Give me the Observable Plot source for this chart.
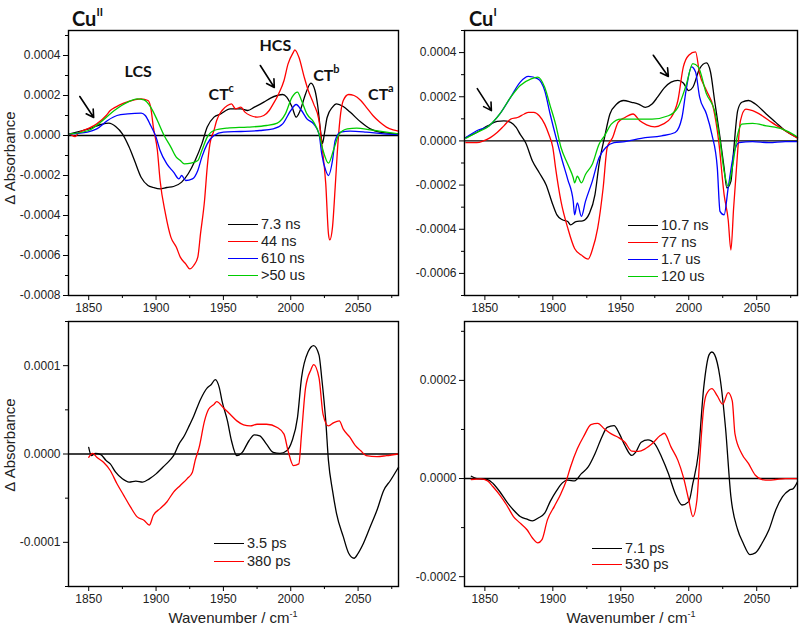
<!DOCTYPE html>
<html><head><meta charset="utf-8">
<script src="https://cdn.jsdelivr.net/npm/d3@7"></script>
<script src="https://cdn.jsdelivr.net/npm/@observablehq/plot@0.6"></script>
<style>
body{margin:0;background:#fff;}
#root{position:relative;width:800px;height:632px;font-family:"Liberation Sans",Arial,sans-serif;color:#222;overflow:hidden;}
.p{position:absolute;}
.t{position:absolute;white-space:nowrap;}
.title{font-family:Lato,"Open Sans",sans-serif;font-weight:bold;font-size:20px;line-height:20px;color:#111;}
.title sup{font-size:11px;position:relative;top:-2px;}
.ylab{font-size:15px;line-height:16px;width:200px;text-align:center;transform:rotate(-90deg);}
.xlab{font-size:15px;line-height:18px;width:220px;text-align:center;}
.xlab sup{font-size:9px;}
.leg{font-size:14.5px;line-height:16px;}
.leg span{display:inline-block;width:30px;height:0;border-top:1.6px solid;vertical-align:middle;margin-right:3px;position:relative;top:-1px;}
</style></head><body><div id="root"></div>
<script>
// ---------- shared axis values ----------
const xDomain = [1835, 2080];
const xMajor = [1850, 1900, 1950, 2000, 2050];
const xMinor = [1875, 1925, 1975, 2025, 2075];

// ---------- Cu(II), ns-us spectra, values x 1e-4 ----------
const cuII_7_3ns = [[1836,0.08],[1850,0.33],[1859,0.55],[1865,0.62],[1870,0.45],[1875,0.08],[1880,-0.58],[1884,-1.25],[1889,-2.1],[1894,-2.5],[1898,-2.6],[1903,-2.67],[1908,-2.6],[1913,-2.55],[1919,-2.33],[1924,-1.9],[1929,-1.25],[1934,-0.42],[1938,0.42],[1943,0.92],[1948,1.08],[1955,1.33],[1963,1.33],[1968,1.25],[1973,1.42],[1980,1.67],[1985,1.87],[1990,2.0],[1994,2.05],[1997,1.92],[2001,1.42],[2004,0.92],[2007,1.25],[2011,2.08],[2015,2.62],[2018,2.25],[2020,1.5],[2022,0.3],[2023.5,-0.4],[2025,0.1],[2027,0.9],[2031,1.42],[2034,1.58],[2039,1.45],[2044,1.17],[2052,0.67],[2059,0.33],[2066,0.17],[2080,0.08]];
const cuII_44ns = [[1836,0.08],[1840,-0.05],[1842,0.1],[1849,0.33],[1856,0.58],[1863,1.0],[1866,1.25],[1870,1.42],[1876,1.62],[1884,1.78],[1889,1.83],[1894,1.75],[1896,1.42],[1898,0.42],[1901,-0.75],[1903,-2.25],[1907,-3.92],[1911,-5.08],[1915,-5.58],[1918,-6.08],[1922,-6.42],[1925,-6.67],[1928,-6.5],[1931,-6.08],[1933,-4.92],[1936,-3.25],[1938,-1.58],[1940,-0.42],[1943,0.25],[1945,0.75],[1949,1.25],[1953,1.5],[1956,1.58],[1959,1.33],[1963,1.42],[1966,1.17],[1970,1.0],[1975,0.92],[1980,1.0],[1984,1.25],[1987,1.58],[1991,2.08],[1995,2.75],[1998,3.58],[2002,4.17],[2003,4.28],[2006,3.92],[2010,2.92],[2013,2.25],[2017,1.58],[2021,0.75],[2023,-0.42],[2026,-2.42],[2028,-4.92],[2029,-5.22],[2031,-4.58],[2033,-2.58],[2035,-0.42],[2037,1.08],[2039,1.75],[2043,2.05],[2047,2.0],[2052,1.75],[2056,1.42],[2061,1.0],[2066,0.67],[2071,0.42],[2076,0.28],[2080,0.22]];
const cuII_610ns = [[1836,0.08],[1849,0.17],[1856,0.33],[1864,0.75],[1871,1.0],[1879,1.08],[1889,1.12],[1892,1.0],[1896,0.5],[1900,-0.08],[1903,-0.75],[1908,-1.42],[1913,-1.83],[1917,-2.17],[1919,-2.0],[1922,-2.25],[1927,-2.17],[1931,-1.75],[1934,-1.08],[1938,-0.42],[1943,0.0],[1950,0.17],[1963,0.2],[1977,0.25],[1987,0.33],[1994,0.58],[2000,1.25],[2004,1.55],[2008,1.25],[2012,0.83],[2017,0.58],[2021,0.08],[2023,-0.92],[2026,-1.75],[2028,-2.0],[2031,-1.25],[2033,-0.25],[2037,0.17],[2044,0.22],[2056,0.17],[2069,0.08],[2080,0.05]];
const cuII_50us = [[1836,0.08],[1850,0.25],[1859,0.67],[1869,1.25],[1879,1.67],[1886,1.83],[1891,1.78],[1896,1.42],[1901,0.75],[1906,0.0],[1911,-0.58],[1915,-1.08],[1918,-1.25],[1921,-1.42],[1926,-1.38],[1931,-1.25],[1934,-0.75],[1938,-0.08],[1943,0.25],[1953,0.37],[1968,0.42],[1982,0.5],[1990,0.62],[1996,1.08],[2001,1.92],[2005,2.17],[2008,1.75],[2012,1.08],[2017,0.67],[2021,0.08],[2024,-0.75],[2028,-1.38],[2032,-0.67],[2036,0.08],[2042,0.33],[2049,0.37],[2059,0.28],[2071,0.17],[2080,0.08]];

// ---------- Cu(I), ns-us spectra, values x 1e-4 ----------
const cuI_10_7ns = [[1836,0.15],[1844,0.38],[1852,0.68],[1859,0.88],[1864,0.91],[1869,0.84],[1873,0.61],[1876,0.3],[1880,-0.08],[1885,-0.91],[1890,-1.44],[1895,-1.98],[1900,-2.89],[1903,-3.35],[1907,-3.57],[1911,-3.65],[1913,-3.8],[1917,-3.65],[1922,-3.62],[1927,-3.27],[1931,-2.43],[1934,-1.06],[1938,0.15],[1942,1.22],[1947,1.67],[1952,1.83],[1958,1.75],[1963,1.67],[1968,1.52],[1973,1.67],[1977,1.98],[1982,2.4],[1987,2.66],[1992,2.74],[1996,2.62],[2000,2.28],[2003,2.43],[2008,3.27],[2013,3.53],[2016,3.12],[2019,1.83],[2023,0.15],[2026,-1.22],[2028,-2.13],[2031,-1.83],[2033,-0.46],[2036,1.37],[2039,1.75],[2044,1.83],[2049,1.67],[2057,1.22],[2064,0.84],[2071,0.46],[2080,0.15]];
const cuI_77ns = [[1836,-0.08],[1844,-0.08],[1849,0],[1854,0.15],[1859,0.38],[1864,0.68],[1869,0.99],[1874,1.06],[1879,1.22],[1882,1.29],[1886,1.29],[1890,1.14],[1894,0.76],[1897,0.3],[1900,-0.3],[1902,-1.22],[1906,-2.74],[1911,-3.95],[1916,-4.87],[1921,-5.17],[1926,-5.35],[1929,-4.94],[1933,-3.95],[1937,-2.13],[1940,-0.3],[1944,0.15],[1948,0.84],[1953,1.06],[1959,1.22],[1964,0.91],[1969,0.73],[1975,0.64],[1981,0.76],[1987,1.06],[1992,1.83],[1996,3.35],[2000,3.88],[2005,4.03],[2008,3.04],[2013,2.28],[2018,1.52],[2022,0],[2026,-2.43],[2029,-3.57],[2031,-4.94],[2033,-3.04],[2036,-0.46],[2038,0.91],[2042,1.44],[2047,1.37],[2054,1.14],[2061,0.84],[2071,0.46],[2080,0.12]];
const cuI_1_7us = [[1836,0.15],[1844,0.46],[1853,0.68],[1861,1.22],[1869,1.98],[1876,2.66],[1882,2.92],[1889,2.81],[1894,2.28],[1898,1.22],[1903,0],[1907,-0.91],[1911,-1.75],[1915,-2.74],[1916,-3.35],[1918,-2.81],[1921,-3.42],[1924,-2.74],[1929,-1.83],[1934,-0.76],[1939,-0.3],[1945,-0.08],[1953,-0.03],[1965,0.12],[1980,0.23],[1990,0.38],[1995,1.06],[1998,2.28],[2002,3.35],[2005,3.12],[2008,1.98],[2013,1.22],[2017,0.3],[2021,-1.22],[2023,-3.19],[2026,-3.35],[2029,-2.13],[2033,-0.61],[2037,-0.08],[2047,-0.03],[2059,-0.08],[2071,-0.03],[2080,-0.03]];
const cuI_120us = [[1836,0.12],[1844,0.38],[1853,0.68],[1861,1.22],[1869,1.98],[1876,2.51],[1884,2.81],[1889,2.89],[1894,2.43],[1898,1.6],[1902,0.76],[1906,-0.3],[1911,-1.06],[1915,-1.67],[1916,-1.9],[1918,-1.6],[1921,-1.9],[1924,-1.52],[1929,-1.06],[1934,-0.15],[1938,0.23],[1943,0.76],[1950,0.99],[1960,0.99],[1973,0.99],[1985,1.14],[1992,1.52],[1998,2.51],[2003,3.5],[2007,3.35],[2013,2.13],[2019,1.37],[2023,0],[2026,-1.37],[2029,-2.05],[2032,-1.22],[2036,0.3],[2039,0.76],[2047,0.79],[2057,0.68],[2069,0.53],[2080,0.18]];

// ---------- Cu(II), ps spectra, values x 1e-5 ----------
const cuII_3_5ps = [[1850,0.75],[1852,-0.19],[1855,0.07],[1859,-0.07],[1863,-0.75],[1866,-1.12],[1870,-2.06],[1875,-2.81],[1880,-3.18],[1885,-3.07],[1890,-3.18],[1895,-2.81],[1900,-2.25],[1905,-1.5],[1910,-0.75],[1913,-0.19],[1917,1.12],[1921,2.06],[1924,3.0],[1928,4.31],[1933,6.18],[1938,7.49],[1941,7.87],[1944,8.43],[1947,7.49],[1949,5.99],[1953,3.75],[1956,1.5],[1960,-0.19],[1964,0.19],[1969,1.5],[1973,2.17],[1977,2.06],[1982,1.12],[1987,0.19],[1992,0.07],[1997,0.37],[2001,1.5],[2005,4.12],[2008,8.61],[2013,11.6],[2017,12.28],[2021,11.2],[2023,8.61],[2026,3.75],[2028,-0.75],[2031,-4.12],[2034,-6.74],[2039,-9.36],[2043,-11.24],[2047,-11.8],[2050,-11.24],[2054,-10.1],[2059,-8.24],[2064,-6.37],[2069,-4.12],[2074,-3.0],[2080,-1.5]];
const cuII_380ps = [[1850,-0.37],[1853,0.07],[1856,-0.37],[1861,-0.94],[1866,-1.87],[1871,-3.37],[1876,-4.68],[1881,-5.99],[1886,-7.12],[1891,-7.49],[1895,-8.05],[1898,-6.93],[1903,-6.18],[1908,-5.43],[1913,-4.31],[1918,-3.56],[1923,-2.81],[1927,-2.06],[1929,-0.75],[1932,0.75],[1936,3.75],[1939,5.06],[1943,5.62],[1945,5.92],[1950,5.24],[1955,4.49],[1960,3.75],[1965,3.3],[1970,3.18],[1975,3.37],[1982,3.37],[1990,3.0],[1995,2.25],[1998,0.37],[2002,-1.31],[2006,-1.12],[2008,2.25],[2011,7.49],[2015,9.55],[2017,10.11],[2021,8.61],[2024,4.49],[2028,3.18],[2032,3.56],[2036,3.75],[2039,2.81],[2044,1.87],[2048,0.94],[2052,0.37],[2056,-0.19],[2064,-0.3],[2071,-0.19],[2080,0]];

// ---------- Cu(I), ps spectra, values x 1e-5 ----------
const cuI_7_1ps = [[1840,0.47],[1844,0],[1852,-0.2],[1856,-1.01],[1861,-2.69],[1866,-4.71],[1871,-6.4],[1876,-7.74],[1881,-8.28],[1885,-8.62],[1889,-8.08],[1894,-7.07],[1898,-4.71],[1903,-2.36],[1907,-0.88],[1911,-0.34],[1916,-0.47],[1921,1.01],[1926,2.36],[1931,5.05],[1936,8.42],[1940,10.44],[1945,10.77],[1949,9.09],[1953,6.73],[1958,4.71],[1961,5.39],[1965,7.41],[1970,7.88],[1975,7.07],[1980,4.38],[1985,1.01],[1990,-3.03],[1995,-5.39],[2000,-4.71],[2003,-1.01],[2007,5.05],[2011,18.52],[2015,25.25],[2017,25.79],[2019,25.25],[2023,20.54],[2027,10.44],[2031,-3.7],[2036,-10.44],[2040,-13.13],[2045,-15.49],[2049,-15.15],[2054,-13.13],[2059,-10.44],[2064,-6.4],[2069,-3.7],[2074,-2.36],[2077,-2.02],[2080,-0.67]];
const cuI_530ps = [[1840,-0.2],[1847,-0.07],[1852,-0.47],[1856,-1.68],[1861,-3.37],[1866,-5.39],[1871,-7.74],[1876,-9.09],[1881,-10.44],[1885,-12.12],[1889,-13.13],[1892,-12.46],[1896,-8.42],[1901,-5.72],[1906,-3.03],[1910,-0.34],[1913,2.36],[1918,6.06],[1923,8.75],[1928,10.98],[1933,11.25],[1938,10.1],[1943,9.09],[1948,8.42],[1953,7.41],[1958,5.59],[1963,5.52],[1968,6.06],[1973,7.07],[1979,8.75],[1982,9.23],[1987,6.4],[1992,3.7],[1996,0.34],[2000,-4.38],[2003,-7.74],[2006,-4.38],[2008,3.7],[2011,14.48],[2013,17.17],[2017,18.32],[2021,16.84],[2025,15.15],[2029,17.51],[2032,15.82],[2034,9.09],[2039,5.05],[2044,3.03],[2049,0.67],[2054,-0.2],[2059,-0.34],[2064,-0.2],[2071,0],[2080,0]];

// ---------- annotations (data coordinates) ----------
const cuIIBandLabels = [{text:"LCS", w:1886.7, v:0.00032},{text:"HCS", w:1988.6, v:0.00045}];
const cuIICtLabels = [{text:"CT", sup:"c", w:1939, v:0.000205},{text:"CT", sup:"b", w:2016.7, v:0.0003},{text:"CT", sup:"a", w:2057.4, v:0.000205}];
const cuIIArrows = [{w1:1843.4,v1:0.000195,w2:1853.7,v2:0.00009},{w1:1977.4,v1:0.00035,w2:1987.8,v2:0.00024}];
const cuIArrows = [{w1:1844.4,v1:0.000237,w2:1854.8,v2:0.000137},{w1:1973.9,v1:0.000388,w2:1985,v2:0.000292}];

const fmt4 = d => d.toFixed(4);
const root = document.getElementById("root");

function panel(cfg) {
  const marks = [
    Plot.ruleY([0], {stroke: "black", strokeWidth: 1.4}),
    ...cfg.series.map(s => Plot.line(s.data, {x: d => d[0], y: d => d[1] * cfg.unit, stroke: s.color, strokeWidth: 1.3, curve: "monotone-x"})),
    ...(cfg.extra || []),
    Plot.frame({stroke: "black", strokeWidth: 1.4}),
    Plot.axisX({ticks: xMajor, tickSize: 5, tickPadding: 3, tickFormat: d => String(d), label: null, stroke: "black"}),
    Plot.axisX({ticks: xMinor, tickSize: 3, tickFormat: () => "", label: null, stroke: "black"}),
    Plot.axisY({ticks: cfg.yMajor, tickSize: 5, tickPadding: 3, tickFormat: fmt4, label: null, stroke: "black"}),
    Plot.axisY({ticks: cfg.yMinor, tickSize: 3, tickFormat: () => "", label: null, stroke: "black"})
  ];
  const svg = Plot.plot({
    width: cfg.width, height: cfg.height,
    marginLeft: cfg.ml, marginRight: cfg.mr, marginTop: cfg.mt, marginBottom: cfg.mb,
    x: {domain: xDomain},
    y: {domain: cfg.yDomain},
    style: {fontFamily: "'Liberation Sans', Arial, sans-serif", fontSize: "12px", color: "#222", background: "transparent", overflow: "visible"},
    marks
  });
  svg.classList.add("p");
  svg.style.left = cfg.left + "px";
  svg.style.top = cfg.top + "px";
  root.appendChild(svg);
  // legend
  cfg.series.forEach((s, i) => {
    const d = document.createElement("div");
    d.className = "t leg";
    d.style.left = cfg.legX + "px";
    d.style.top = (cfg.legY[i] - 8) + "px";
    d.innerHTML = `<span style="border-color:${s.color}"></span>${s.name}`;
    root.appendChild(d);
  });
}

function annotations(arrows, withLabels) {
  const m = [
    Plot.arrow(arrows, {x1: "w1", y1: "v1", x2: "w2", y2: "v2", stroke: "black", strokeWidth: 1.6, headLength: 9})
  ];
  if (withLabels) {
    m.push(Plot.text(cuIIBandLabels, {x: "w", y: "v", text: "text", fontFamily: "Lato, 'Open Sans', sans-serif", fontWeight: "bold", fontSize: 16, fill: "#111"}));
    m.push(Plot.text(cuIICtLabels, {x: "w", y: "v", text: "text", textAnchor: "start", fontFamily: "Lato, 'Open Sans', sans-serif", fontWeight: "bold", fontSize: 16, fill: "#111"}));
    m.push(Plot.text(cuIICtLabels, {x: "w", y: "v", text: "sup", textAnchor: "start", dx: 20, dy: -6, fontFamily: "Lato, 'Open Sans', sans-serif", fontWeight: "bold", fontSize: 11, fill: "#111"}));
  }
  return m;
}

panel({
  left: 0, top: 0, width: 400, height: 320, ml: 68, mr: 2, mt: 30, mb: 25,
  yDomain: [-0.0008, 0.000525], unit: 1e-4,
  yMajor: [-0.0008, -0.0006, -0.0004, -0.0002, 0, 0.0002, 0.0004],
  yMinor: [-0.0007, -0.0005, -0.0003, -0.0001, 0.0001, 0.0003, 0.0005],
  series: [
    {name: "7.3 ns", color: "#000000", data: cuII_7_3ns},
    {name: "44 ns", color: "#ff0000", data: cuII_44ns},
    {name: "610 ns", color: "#0000ff", data: cuII_610ns},
    {name: ">50 us", color: "#00cc00", data: cuII_50us}
  ],
  extra: annotations(cuIIArrows, true),
  legX: 228, legY: [224, 241, 258, 275]
});
panel({
  left: 400, top: 0, width: 400, height: 320, ml: 64, mr: 3, mt: 30, mb: 25,
  yDomain: [-0.0007, 0.0005], unit: 1e-4,
  yMajor: [-0.0006, -0.0004, -0.0002, 0, 0.0002, 0.0004],
  yMinor: [-0.0007, -0.0005, -0.0003, -0.0001, 0.0001, 0.0003, 0.0005],
  series: [
    {name: "10.7 ns", color: "#000000", data: cuI_10_7ns},
    {name: "77 ns", color: "#ff0000", data: cuI_77ns},
    {name: "1.7 us", color: "#0000ff", data: cuI_1_7us},
    {name: "120 us", color: "#00cc00", data: cuI_120us}
  ],
  extra: annotations(cuIArrows, false),
  legX: 628, legY: [225, 242, 259, 276]
});
panel({
  left: 0, top: 320, width: 400, height: 312, ml: 68, mr: 2, mt: 1, mb: 46,
  yDomain: [-0.00015, 0.00015], unit: 1e-5,
  yMajor: [-0.0001, 0, 0.0001],
  yMinor: [-0.00015, -0.00005, 0.00005, 0.00015],
  series: [
    {name: "3.5 ps", color: "#000000", data: cuII_3_5ps},
    {name: "380 ps", color: "#ff0000", data: cuII_380ps}
  ],
  legX: 214, legY: [543, 561]
});
panel({
  left: 400, top: 320, width: 400, height: 312, ml: 64, mr: 3, mt: 1, mb: 46,
  yDomain: [-0.00022, 0.00032], unit: 1e-5,
  yMajor: [-0.0002, 0, 0.0002],
  yMinor: [-0.0001, 0.0001, 0.0003],
  series: [
    {name: "7.1 ps", color: "#000000", data: cuI_7_1ps},
    {name: "530 ps", color: "#ff0000", data: cuI_530ps}
  ],
  legX: 592, legY: [548, 564]
});

// titles and axis titles
function addText(cls, html, left, top) {
  const d = document.createElement("div");
  d.className = "t " + cls;
  d.style.left = left + "px";
  d.style.top = top + "px";
  d.innerHTML = html;
  root.appendChild(d);
}
addText("title", "Cu<sup>II</sup>", 72, 4);
addText("title", "Cu<sup>I</sup>", 469, 4);
addText("ylab", "&Delta; Absorbance", 10 - 100, 158 - 8);
addText("ylab", "&Delta; Absorbance", 10 - 100, 445 - 8);
addText("xlab", "Wavenumber / cm<sup>-1</sup>", 233 - 110, 605);
addText("xlab", "Wavenumber / cm<sup>-1</sup>", 631 - 110, 605);
</script></body></html>
